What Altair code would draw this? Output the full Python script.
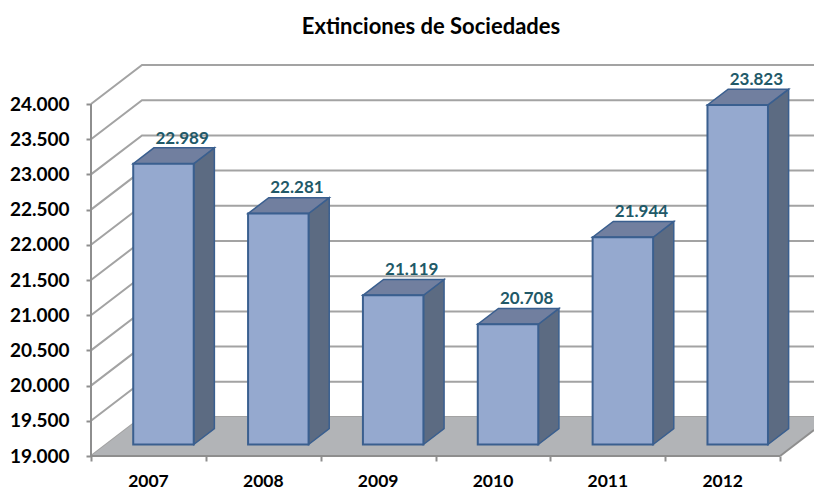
import altair as alt
import pandas as pd

years = ["2007", "2008", "2009", "2010", "2011", "2012"]
values = [22989, 22281, 21119, 20708, 21944, 23823]
y_ticks = [19000, 19500, 20000, 20500, 21000, 21500, 22000, 22500, 23000, 23500, 24000]

BASE = 19000
PX_X = 114.85           # pixels per category
PX_Y = 0.0704           # pixels per unit
DX = 51 / PX_X          # depth of the box in category units
DY = 39 / PX_Y          # depth of the box in value units
W_PX, H_PX = 723, 396
XMAX = W_PX / PX_X
YMAX = BASE + H_PX / PX_Y
F0, F1 = 0.295, 0.70    # near and far depth of a bar
BW = 60.5 / PX_X / 2
FONT = "Lato"
AX = "#8E8E8E"

X = alt.Scale(domain=[0, XMAX], nice=False, zero=False)
Y = alt.Scale(domain=[BASE, YMAX], nice=False, zero=False)
xe = alt.X("x:Q", scale=X, axis=alt.Axis(
    title=None, values=list(range(7)), labels=False, domain=False, grid=False,
    tickSize=5, tickColor=AX, tickWidth=2))
ye = alt.Y("y:Q", scale=Y, stack=None, axis=alt.Axis(
    title=None, values=y_ticks, domain=False, grid=False, tickSize=5, tickColor=AX, tickWidth=2,
    labelFont=FONT, labelFontWeight="bold", labelFontSize=19, labelColor="#000000", labelPadding=17,
    labelExpr="replace(format(datum.value, ',.0f'), ',', '.')"))
y2e = alt.Y2("y2:Q")

# wall / grid lines
grid = []
for v in y_ticks:
    grid += [dict(k=v, o=0, x=0, y=v), dict(k=v, o=1, x=DX, y=v + DY), dict(k=v, o=2, x=XMAX, y=v + DY)]
grid_l = alt.Chart(pd.DataFrame(grid)).mark_line(color="#A3A3A3", strokeWidth=2).encode(
    x=xe, y=ye, detail="k:N", order="o:Q")

# floor
floor = pd.DataFrame([
    dict(x=0, y=BASE, y2=BASE), dict(x=DX, y=BASE, y2=BASE + DY),
    dict(x=6, y=BASE, y2=BASE + DY), dict(x=6 + DX, y=BASE + DY, y2=BASE + DY)])
floor_l = alt.Chart(floor).mark_area(color="#B2B4B7", clip=True).encode(x=xe, y=ye, y2=y2e)

# front edges
edges = pd.DataFrame([
    dict(k="v", o=0, x=0, y=BASE), dict(k="v", o=1, x=0, y=24000),
    dict(k="b", o=0, x=0, y=BASE), dict(k="b", o=1, x=6, y=BASE),
    dict(k="r", o=0, x=6, y=BASE), dict(k="r", o=1, x=XMAX, y=BASE + DY * (XMAX - 6) / DX)])
edges_l = alt.Chart(edges).mark_line(color=AX, strokeWidth=2).encode(
    x=xe, y=ye, detail="k:N", order="o:Q")

# bars
front, side, top, labels, cats = [], [], [], [], []
for i, (yr, v) in enumerate(zip(years, values)):
    c = i + 0.5
    xl, xr = c - BW + DX * F0, c + BW + DX * F0
    d = DX * (F1 - F0)
    y0, y1 = BASE + DY * F0, v + DY * F0
    e = DY * (F1 - F0)
    front.append(dict(x=xl, x2=xr, y=y0, y2=y1))
    side += [dict(k=yr, x=xr, y=y0, y2=y1), dict(k=yr, x=xr + d, y=y0 + e, y2=y1 + e)]
    top += [dict(k=yr, x=xl, y=y1, y2=y1), dict(k=yr, x=xl + d, y=y1, y2=y1 + e),
            dict(k=yr, x=xr, y=y1, y2=y1 + e), dict(k=yr, x=xr + d, y=y1 + e, y2=y1 + e)]
    labels.append(dict(x=c + DX * 0.66, y=v + DY * 0.94, t=f"{v:,}".replace(",", ".")))
    cats.append(dict(x=c, y=BASE, t=yr))

STROKE = "#3A5F8F"
side_l = alt.Chart(pd.DataFrame(side)).mark_area(color="#5C6B82", stroke=STROKE, strokeWidth=1.5).encode(
    x=xe, y=ye, y2=y2e, detail="k:N")
top_l = alt.Chart(pd.DataFrame(top)).mark_area(color="#717F9F", stroke=STROKE, strokeWidth=1.5).encode(
    x=xe, y=ye, y2=y2e, detail="k:N")
front_l = alt.Chart(pd.DataFrame(front)).mark_rect(color="#95A9CF", stroke=STROKE, strokeWidth=2).encode(
    x=xe, x2="x2:Q", y=ye, y2=y2e)

label_l = alt.Chart(pd.DataFrame(labels)).mark_text(
    font=FONT, fontWeight="bold", fontSize=17, color="#215968", baseline="middle").encode(
    x=xe, y=ye, text="t:N")
cat_l = alt.Chart(pd.DataFrame(cats)).mark_text(
    font=FONT, fontWeight="bold", fontSize=17.5, color="#000000", baseline="middle", dy=26).encode(
    x=xe, y=ye, text="t:N")

chart = alt.layer(grid_l, floor_l, edges_l, side_l, top_l, front_l, label_l, cat_l).properties(
    width=W_PX, height=H_PX,
    title=alt.TitleParams("Extinciones de Sociedades", font=FONT, fontWeight="bold", fontSize=22,
                          color="#000000", anchor="middle", dx=-21.5, offset=21),
    autosize=alt.AutoSizeParams(type="none"),
    padding={"left": 83, "top": 52, "right": 0, "bottom": 35},
).configure_view(stroke=None)

chart.save("out.html", embed_options={"renderer": "svg", "actions": False})
